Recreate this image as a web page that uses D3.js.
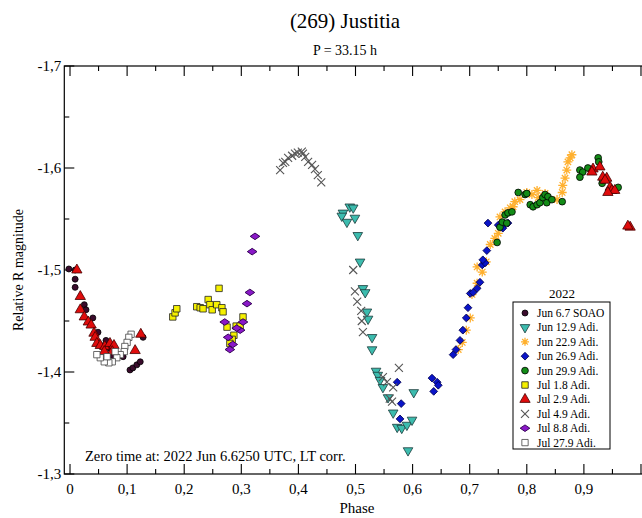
<!DOCTYPE html>
<html><head><meta charset="utf-8">
<script src="https://cdn.jsdelivr.net/npm/d3@7"></script>
<style>body{margin:0;background:#fff}svg{display:block}text{font-family:"Liberation Serif","DejaVu Serif",serif}</style>
</head><body><svg id="c" width="642" height="518"></svg>
<script>
const title = "(269) Justitia";
const subtitle = "P = 33.15 h";
const xLabel = "Phase";
const yLabel = "Relative R magnitude";
const note = "Zero time at: 2022 Jun 6.6250 UTC, LT corr.";
const legendTitle = "2022";
const xTicks = [0,0.1,0.2,0.3,0.4,0.5,0.6,0.7,0.8,0.9];
const yTicks = [-1.7,-1.6,-1.5,-1.4,-1.3];
const seriesNames = ["Jun 6.7 SOAO","Jun 12.9 Adi.","Jun 22.9 Adi.","Jun 26.9 Adi.","Jun 29.9 Adi.","Jul 1.8 Adi.","Jul 2.9 Adi.","Jul 4.9 Adi.","Jul 8.8 Adi.","Jul 27.9 Adi."];

const jun067 = [[-0.002,-1.501],[0.009,-1.500],[0.009,-1.491],[0.009,-1.483],[0.025,-1.466],[0.028,-1.461],[0.040,-1.453],[0.049,-1.439],[0.054,-1.426],[0.070,-1.423],[0.075,-1.416],[0.093,-1.415],[0.105,-1.402],[0.110,-1.404],[0.117,-1.407],[0.123,-1.410],[0.128,-1.434],[0.063,-1.431]];
const jun129 = [[0.490,-1.562],[0.496,-1.561],[0.478,-1.556],[0.476,-1.553],[0.485,-1.547],[0.499,-1.551],[0.504,-1.534],[0.508,-1.508],[0.513,-1.482],[0.517,-1.478],[0.520,-1.459],[0.522,-1.452],[0.529,-1.434],[0.529,-1.422],[0.536,-1.401],[0.539,-1.397],[0.543,-1.392],[0.548,-1.385],[0.557,-1.375],[0.566,-1.360],[0.573,-1.346],[0.581,-1.345],[0.590,-1.348],[0.599,-1.353],[0.602,-1.380],[0.592,-1.323]];
const jun229 = [[0.680,-1.422],[0.687,-1.429],[0.694,-1.441],[0.701,-1.453],[0.704,-1.476],[0.713,-1.487],[0.713,-1.503],[0.722,-1.498],[0.729,-1.508],[0.736,-1.525],[0.744,-1.531],[0.750,-1.536],[0.753,-1.552],[0.762,-1.557],[0.771,-1.561],[0.776,-1.562],[0.779,-1.567],[0.788,-1.569],[0.800,-1.576],[0.809,-1.574],[0.818,-1.578],[0.820,-1.571],[0.832,-1.575],[0.853,-1.569],[0.862,-1.576],[0.863,-1.583],[0.867,-1.590],[0.870,-1.598],[0.872,-1.606],[0.876,-1.610],[0.879,-1.613]];
const jun269 = [[0.573,-1.390],[0.580,-1.369],[0.578,-1.354],[0.634,-1.394],[0.643,-1.390],[0.645,-1.387],[0.637,-1.381],[0.671,-1.417],[0.676,-1.422],[0.683,-1.431],[0.688,-1.441],[0.694,-1.453],[0.697,-1.463],[0.701,-1.477],[0.706,-1.478],[0.713,-1.482],[0.718,-1.488],[0.722,-1.505],[0.727,-1.507],[0.723,-1.510],[0.730,-1.519],[0.732,-1.546],[0.750,-1.544],[0.757,-1.542],[0.758,-1.541],[0.767,-1.546]];
const jun299 = [[0.748,-1.527],[0.753,-1.542],[0.757,-1.547],[0.762,-1.554],[0.765,-1.546],[0.767,-1.556],[0.774,-1.557],[0.785,-1.576],[0.797,-1.574],[0.800,-1.575],[0.806,-1.564],[0.811,-1.562],[0.818,-1.564],[0.823,-1.566],[0.828,-1.571],[0.832,-1.574],[0.835,-1.566],[0.837,-1.572],[0.844,-1.569],[0.862,-1.567],[0.893,-1.598],[0.898,-1.596],[0.893,-1.591],[0.907,-1.600],[0.925,-1.610],[0.926,-1.606],[0.932,-1.585],[0.933,-1.588],[0.960,-1.581]];
const jul018 = [[0.180,-1.454],[0.184,-1.458],[0.187,-1.462],[0.222,-1.464],[0.228,-1.463],[0.233,-1.462],[0.242,-1.471],[0.245,-1.466],[0.249,-1.461],[0.257,-1.466],[0.261,-1.482],[0.266,-1.463],[0.268,-1.459],[0.275,-1.444],[0.291,-1.445],[0.298,-1.445],[0.303,-1.454],[0.287,-1.436],[0.284,-1.432],[0.280,-1.428]];
const jul029 = [[0.012,-1.500],[0.018,-1.474],[0.018,-1.461],[0.025,-1.454],[0.032,-1.449],[0.037,-1.446],[0.042,-1.438],[0.044,-1.434],[0.047,-1.428],[0.053,-1.426],[0.061,-1.425],[0.070,-1.428],[0.077,-1.426],[0.074,-1.420],[0.060,-1.420],[0.124,-1.437],[0.114,-1.421],[0.916,-1.599],[0.914,-1.596],[0.928,-1.601],[0.933,-1.591],[0.940,-1.590],[0.937,-1.588],[0.946,-1.581],[0.949,-1.578],[0.954,-1.578],[0.942,-1.576],[0.981,-1.542],[0.977,-1.543]];
const jul049 = [[0.368,-1.598],[0.373,-1.605],[0.377,-1.606],[0.382,-1.610],[0.389,-1.612],[0.394,-1.614],[0.399,-1.615],[0.406,-1.616],[0.408,-1.614],[0.412,-1.611],[0.417,-1.606],[0.424,-1.603],[0.429,-1.599],[0.434,-1.593],[0.440,-1.586],[0.496,-1.500],[0.499,-1.479],[0.503,-1.469],[0.510,-1.460],[0.511,-1.450],[0.513,-1.439],[0.576,-1.404],[0.548,-1.395],[0.555,-1.390],[0.566,-1.385],[0.560,-1.374],[0.564,-1.371]];
const jul088 = [[0.324,-1.533],[0.319,-1.518],[0.315,-1.478],[0.310,-1.467],[0.303,-1.449],[0.271,-1.449],[0.298,-1.441],[0.292,-1.443],[0.277,-1.434],[0.285,-1.427],[0.280,-1.422]];
const jul279 = [[0.107,-1.437],[0.103,-1.434],[0.100,-1.429],[0.096,-1.425],[0.095,-1.420],[0.088,-1.417],[0.082,-1.414],[0.074,-1.410],[0.068,-1.409],[0.060,-1.410],[0.053,-1.414],[0.047,-1.417],[0.079,-1.420],[0.065,-1.415]];

const seriesData = [jun067,jun129,jun229,jun269,jun299,jul018,jul029,jul049,jul088,jul279];

const svg = d3.select("#c");
const x = d3.scaleLinear().domain([-0.01, 1.01]).range([64.3, 646.7]);
const y = d3.scaleLinear().domain([-1.7, -1.3]).range([66, 474]);
const fmt = v => (Math.abs(v) < 1e-9 ? "0" : d3.format(".1f")(v).replace("−","-").replace(".", ","));
const fmtY = v => d3.format(".1f")(v).replace("−","-").replace(".", ",");

const styles = [
  {shape:"circle", fill:"#3a0b2c", stroke:"#000", size:28},
  {shape:"tri-down", fill:"#3cbcae", stroke:"#1a3a3a", size:40},
  {shape:"asterisk", fill:"none", stroke:"#ffb02e", size:4.5},
  {shape:"diamond", fill:"#0a14c8", stroke:"#000050", size:30},
  {shape:"circle", fill:"#138c17", stroke:"#000", size:36},
  {shape:"square", fill:"#f5f000", stroke:"#222", size:42},
  {shape:"tri-up", fill:"#e00c0c", stroke:"#400", size:46},
  {shape:"cross", fill:"none", stroke:"#555", size:4},
  {shape:"diamond-wide", fill:"#8a18c8", stroke:"#300050", size:30},
  {shape:"square", fill:"#fff", stroke:"#444", size:40}
];

function drawMarker(g, st, cx, cy) {
  if (st.shape === "circle") {
    g.append("circle").attr("cx",cx).attr("cy",cy).attr("r",Math.sqrt(st.size/Math.PI)).attr("fill",st.fill).attr("stroke",st.stroke).attr("stroke-width",0.8);
  } else if (st.shape === "asterisk") {
    const s = st.size; let d = "";
    for (let k=0;k<4;k++){const a=k*Math.PI/4; d+=`M${cx-s*Math.cos(a)},${cy-s*Math.sin(a)}L${cx+s*Math.cos(a)},${cy+s*Math.sin(a)}`;}
    g.append("path").attr("d",d).attr("stroke",st.stroke).attr("stroke-width",1.3).attr("fill","none");
  } else if (st.shape === "cross") {
    const s = st.size;
    g.append("path").attr("d",`M${cx-s},${cy-s}L${cx+s},${cy+s}M${cx-s},${cy+s}L${cx+s},${cy-s}`).attr("stroke",st.stroke).attr("stroke-width",1.1).attr("fill","none");
  } else {
    let sym = d3.symbolSquare, tr = `translate(${cx},${cy})`;
    if (st.shape === "tri-down") { sym = d3.symbolTriangle; tr += " rotate(180)"; }
    else if (st.shape === "tri-up") { sym = d3.symbolTriangle; }
    else if (st.shape === "diamond") { tr += " rotate(45)"; }
    else if (st.shape === "diamond-wide") { tr += " scale(1.25,0.85) rotate(45)"; }
    g.append("path").attr("d", d3.symbol().type(sym).size(st.size)())
      .attr("transform",tr)
      .attr("fill",st.fill).attr("stroke",st.stroke).attr("stroke-width",0.8);
  }
}

// frame
const x0 = x.range()[0], x1 = x.range()[1], y0 = y.range()[0], y1 = y.range()[1];
svg.append("rect").attr("x",x0).attr("y",y0).attr("width",x1-x0).attr("height",y1-y0).attr("fill","none").attr("stroke","#000").attr("stroke-width",1.2);

const axisG = svg.append("g").attr("stroke","#000").attr("stroke-width",1.1);
const xMinor = d3.range(0, 21).map(i => i*0.05);
xMinor.forEach((v,i) => {
  const len = (i % 2 === 0) ? 10 : 5;
  axisG.append("line").attr("x1",x(v)).attr("x2",x(v)).attr("y1",y1).attr("y2",y1-len);
  axisG.append("line").attr("x1",x(v)).attr("x2",x(v)).attr("y1",y0).attr("y2",y0+len);
});
const yMinor = d3.range(0, 9).map(i => -1.7 + i*0.05);
yMinor.forEach((v,i) => {
  const len = (i % 2 === 0) ? 10 : 5;
  axisG.append("line").attr("x1",x0).attr("x2",x0+len).attr("y1",y(v)).attr("y2",y(v));
});
xTicks.forEach(v => {
  svg.append("text").attr("x",x(v)).attr("y",y1+20).attr("text-anchor","middle").attr("font-size",15).text(fmt(v));
});
yTicks.forEach(v => {
  svg.append("text").attr("x",x0-3).attr("y",y(v)+5).attr("text-anchor","end").attr("font-size",15).text(fmtY(v));
});

svg.append("text").attr("x",345).attr("y",28).attr("text-anchor","middle").attr("font-size",21).text(title);
svg.append("text").attr("x",345).attr("y",55).attr("text-anchor","middle").attr("font-size",14).text(subtitle);
svg.append("text").attr("x",357).attr("y",513).attr("text-anchor","middle").attr("font-size",15).text(xLabel);
svg.append("text").attr("transform","translate(23,270) rotate(-90)").attr("text-anchor","middle").attr("font-size",14).text(yLabel);
svg.append("text").attr("x",85).attr("y",461).attr("font-size",14.5).text(note);

const marks = svg.append("g");
seriesData.forEach((data, si) => {
  const g = marks.append("g");
  data.forEach(d => drawMarker(g, styles[si], x(d[0]), y(d[1])));
});

svg.append("text").attr("x",562).attr("y",298).attr("text-anchor","middle").attr("font-size",13).text(legendTitle);
const lg = svg.append("g");
lg.append("rect").attr("x",513).attr("y",302).attr("width",97).attr("height",147).attr("fill","#fff").attr("stroke","#000").attr("stroke-width",1);
seriesNames.forEach((n, i) => {
  const cy = 313 + i*14.4;
  const st = Object.assign({}, styles[i]);
  if (st.shape === "asterisk") st.size = 4;
  drawMarker(lg, st, 525, cy);
  lg.append("text").attr("x",537).attr("y",cy+4).attr("font-size",11.5).text(n);
});
</script></body></html>
